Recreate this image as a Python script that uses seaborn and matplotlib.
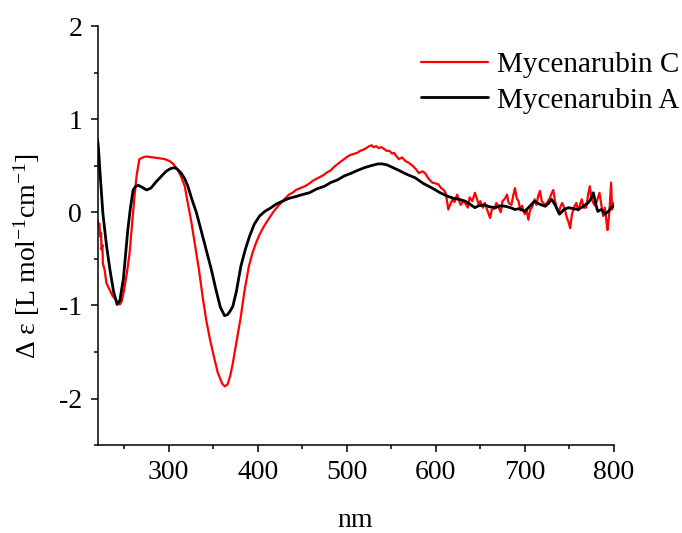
import numpy as np
import pandas as pd
import matplotlib
matplotlib.use("Agg")
import matplotlib.pyplot as plt
import seaborn as sns
from matplotlib.ticker import MultipleLocator

# Mycenarubin C (red)
nm_c = [220, 221, 222, 223, 224, 224.5, 225.5, 226, 228, 230, 233, 237, 240, 243, 245, 247, 250, 253, 256,
        259, 261.5, 264, 267, 271, 275, 282, 290, 296, 301, 305, 310, 314, 318, 321, 325, 329, 334, 338,
        342, 346, 350, 355, 360, 363, 366, 369, 372, 376, 381, 385, 390, 394, 398, 402, 407, 413, 418,
        424, 429, 435, 439, 443, 448, 453, 458, 462, 466, 470, 474, 478, 482, 486, 490, 494, 497, 501,
        505, 509, 512, 515, 518, 522, 525, 528, 530, 533, 536, 539, 542, 545, 548, 551, 553, 556, 558.6,
        562, 566, 570, 574, 578, 581, 585, 588, 592, 596,
        600, 603, 606, 609, 611, 613, 614, 616, 619, 621, 624, 626, 628, 631, 633, 636, 638, 641, 644,
        646, 648, 650, 653, 655, 658, 661, 663, 666, 668, 670, 673, 675, 678, 680, 682, 685, 687, 689,
        691, 693, 695, 697, 700, 702, 704, 706, 708, 711, 713, 715, 717, 719, 721, 723, 726, 728, 730,
        732, 734, 736, 738, 740, 742, 745, 747, 749, 751, 753, 756, 758, 760, 762, 764, 766, 769, 771,
        773, 775, 777, 779, 781, 784, 786, 788, 790, 792, 793, 795, 797, 798, 800]
eps_c = [-0.08, -0.15, -0.12, -0.26, -0.22, -0.40, -0.35, -0.55, -0.62, -0.76, -0.82, -0.90, -0.93, -0.97,
         -0.99, -0.96, -0.83, -0.65, -0.44, -0.10, 0.17, 0.40, 0.57, 0.59, 0.60, 0.59, 0.58, 0.57, 0.55,
         0.52, 0.46, 0.38, 0.28, 0.12, -0.08, -0.32, -0.62, -0.90, -1.15, -1.35, -1.52, -1.72, -1.84,
         -1.87, -1.85, -1.76, -1.62, -1.40, -1.12, -0.85, -0.58, -0.44, -0.33, -0.24, -0.15, -0.06, 0.01,
         0.08, 0.13, 0.19, 0.21, 0.24, 0.26, 0.28, 0.31, 0.34, 0.36, 0.38, 0.40, 0.43, 0.45, 0.49, 0.52,
         0.55, 0.57, 0.60, 0.62, 0.63, 0.64, 0.66, 0.67, 0.69, 0.71, 0.72, 0.70, 0.71, 0.69, 0.70, 0.68,
         0.66, 0.66, 0.63, 0.64, 0.60, 0.57,
         0.59, 0.55, 0.53, 0.50, 0.46, 0.42, 0.44, 0.42, 0.36, 0.32,
         0.31, 0.30, 0.26, 0.24, 0.21, 0.10, 0.03, 0.08, 0.14, 0.11, 0.19, 0.13, 0.08, 0.12, 0.10, 0.05,
         0.16, 0.12, 0.21, 0.15, 0.09, 0.12, 0.05, 0.10, 0.02, -0.06, 0.03, 0.04, 0.10, 0.07, 0.00, 0.12,
         0.15, 0.19, 0.10, 0.08, 0.18, 0.26, 0.15, 0.12, 0.02, 0.07, -0.02, 0.02, -0.08, 0.03, 0.05, 0.14,
         0.08, 0.17, 0.23, 0.12, 0.10, 0.07, 0.12, 0.15, 0.20, 0.24, 0.12, 0.05, -0.01, 0.06, 0.10, 0.03,
         -0.05, -0.10, -0.17, -0.02, 0.07, 0.10, 0.02, 0.08, 0.14, 0.05, 0.05, 0.18, 0.28, 0.15, 0.10,
         0.07, 0.12, 0.21, 0.08, -0.04, 0.05, -0.12, -0.19, 0.00, 0.32, 0.03, 0.10]

# Mycenarubin A (black)
nm_a = [220, 221, 223, 226, 230, 234, 238, 242, 245, 249, 254, 257, 260, 263, 265.6, 270, 275, 280, 286,
        292, 297, 302, 306.7, 310, 314, 318, 321.5, 326, 331, 336, 342, 348, 353, 358, 362.7, 366, 369,
        372, 376, 381, 386, 390.7, 396, 402, 408, 415, 421, 428, 435, 443, 450, 458, 466, 475, 482, 490,
        497, 505, 512, 520, 527, 535, 540, 545, 552, 558.6, 567, 577, 586, 596, 605, 614, 620, 626, 633,
        638, 644, 648, 655, 660, 667, 672, 678, 684, 689, 694, 700, 705, 711, 716, 723, 727, 730, 734,
        739, 744, 749, 754, 760, 765, 771, 774, 777, 780, 782, 786, 790, 794, 797, 800]
eps_a = [0.78, 0.70, 0.40, -0.01, -0.35, -0.62, -0.85, -0.99, -0.95, -0.72, -0.19, 0.05, 0.24, 0.28, 0.29,
         0.27, 0.24, 0.26, 0.33, 0.39, 0.44, 0.47, 0.48, 0.46, 0.42, 0.36, 0.28, 0.14, 0.0, -0.18, -0.40,
         -0.62, -0.83, -1.02, -1.11, -1.10, -1.06, -1.01, -0.85, -0.58, -0.40, -0.26, -0.13, -0.04, 0.01,
         0.05, 0.09, 0.12, 0.15, 0.17, 0.19, 0.21, 0.25, 0.28, 0.32, 0.35, 0.39, 0.42, 0.45, 0.48, 0.50,
         0.52, 0.52, 0.51, 0.48, 0.45, 0.41, 0.37, 0.31, 0.26, 0.21, 0.17, 0.15, 0.14, 0.12, 0.09, 0.05,
         0.07, 0.08, 0.06, 0.05, 0.07, 0.065, 0.05, 0.03, 0.04, 0.01, 0.06, 0.12, 0.09, 0.065, 0.10, 0.14,
         0.08, -0.02, 0.03, 0.05, 0.04, 0.03, 0.06, 0.10, 0.14, 0.21, 0.08, 0.01, 0.03, -0.02, 0.01, 0.05,
         0.07]

labels = ["Mycenarubin C", "Mycenarubin A"]

sns.set_theme(style="ticks")
plt.rcParams['font.family'] = ['Liberation Serif', 'DejaVu Serif']
plt.rcParams['mathtext.fontset'] = 'custom'
plt.rcParams['mathtext.rm'] = 'Liberation Serif'
plt.rcParams['mathtext.it'] = 'Liberation Serif:italic'
plt.rcParams['axes.unicode_minus'] = False
for k in ['text.color', 'axes.labelcolor', 'xtick.color', 'ytick.color', 'axes.edgecolor']:
    plt.rcParams[k] = 'black'

df_c = pd.DataFrame({"nm": nm_c, "eps": eps_c})
df_a = pd.DataFrame({"nm": nm_a, "eps": eps_a})

fig = plt.figure(figsize=(6.82, 5.33), dpi=100)
ax = fig.add_axes([0.143, 0.165, 0.757, 0.786])

sns.lineplot(data=df_c, x="nm", y="eps", ax=ax, color="#ff0000", lw=1.6, label=labels[0])
sns.lineplot(data=df_a, x="nm", y="eps", ax=ax, color="black", lw=2.0, label=labels[1])

ax.set_xlim(220, 800)
ax.set_ylim(-2.5, 2)
ax.xaxis.set_major_locator(MultipleLocator(100))
ax.xaxis.set_minor_locator(MultipleLocator(50))
ax.yaxis.set_major_locator(MultipleLocator(1))
ax.yaxis.set_minor_locator(MultipleLocator(0.5))
ax.set_xticks([300, 400, 500, 600, 700, 800])
ax.tick_params(which='major', length=5, width=1.1, labelsize=20, color='black', labelcolor='black', pad=6)
ax.tick_params(which='minor', length=3, width=1.1, color='black')
for s in ['top', 'right']:
    ax.spines[s].set_visible(False)
for s in ['left', 'bottom']:
    ax.spines[s].set_linewidth(1.1)
    ax.spines[s].set_color('black')

ax.set_xlabel("nm", fontsize=20, labelpad=16)
ax.set_ylabel("Δ ε [L mol$^{\\mathregular{-1}}$cm$^{\\mathregular{-1}}$]", fontsize=20)
ax.yaxis.set_label_coords(-0.108, 0.45)

leg = ax.legend(loc='upper right', bbox_to_anchor=(1.16, 0.98), frameon=False, fontsize=21,
                handlelength=2.3, handletextpad=0.3, labelspacing=0.3, borderaxespad=0.2)

fig.savefig("out.png", dpi=100)
